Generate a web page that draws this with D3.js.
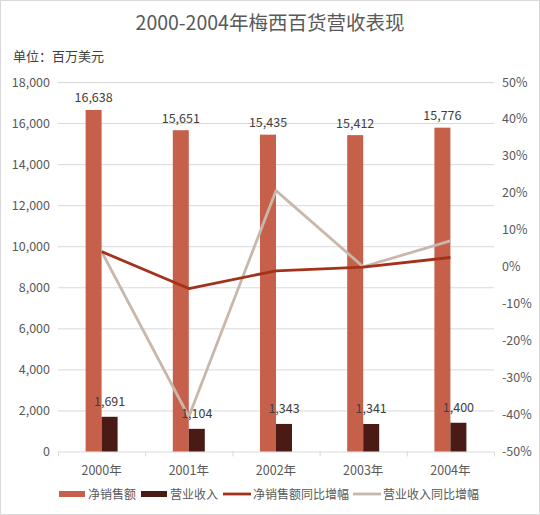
<!DOCTYPE html>
<html>
<head>
<meta charset="utf-8">
<script src="https://cdn.jsdelivr.net/npm/d3@7"></script>
<style>
  html, body { margin: 0; padding: 0; background: #fff; }
  #chart { width: 540px; height: 515px; }
  text { font-family: "Noto Sans CJK SC", "Noto Sans", sans-serif; }
</style>
</head>
<body>
<div id="chart"></div>
<script>
// data
const years = ["2000年", "2001年", "2002年", "2003年", "2004年"];
const netSales = [16638, 15651, 15435, 15412, 15776];
const opIncome = [1691, 1104, 1343, 1341, 1400];
const netSalesGrowth = [4.1, -5.9, -1.1, -0.1, 2.5];
const opIncomeGrowth = [4.1, -40.6, 20.6, 0, 7.0];
const leftTicks = [0, 2000, 4000, 6000, 8000, 10000, 12000, 14000, 16000, 18000];
const rightTicks = [-50, -40, -30, -20, -10, 0, 10, 20, 30, 40, 50];

const W = 540, H = 515;
const m = { left: 58, right: 494, top: 82, bottom: 451.5 };
const cRed = "#C7604A", cDark = "#4A1B14", cLine = "#A3321B", cGray = "#C8B8AC";
const txt = "#595959";

const svg = d3.select("#chart").append("svg")
  .attr("width", W).attr("height", H);

// chart border
svg.append("rect")
  .attr("x", 0.5).attr("y", 0.5)
  .attr("width", W - 1).attr("height", H - 1)
  .attr("fill", "#fff").attr("stroke", "#d9d9d9");

const x = d3.scaleBand().domain(years).range([m.left, m.right]);
const yL = d3.scaleLinear().domain([0, 18000]).range([m.bottom, m.top]);
const yR = d3.scaleLinear().domain([-50, 50]).range([m.bottom, m.top]);
const barW = 16;
const fmt = d3.format(",");

// title + unit
svg.append("text")
  .attr("x", W / 2).attr("y", 30)
  .attr("text-anchor", "middle")
  .attr("fill", txt).style("font-size", "19.5px")
  .text("2000-2004年梅西百货营收表现");

svg.append("text")
  .attr("x", 13).attr("y", 61)
  .attr("fill", "#404040").style("font-size", "13px")
  .text("单位：百万美元");

// gridlines (left axis)
svg.append("g").selectAll("line")
  .data(leftTicks.slice(1))
  .enter().append("line")
    .attr("x1", m.left).attr("x2", m.right)
    .attr("y1", d => yL(d) + 0.5).attr("y2", d => yL(d) + 0.5)
    .attr("stroke", "#d9d9d9");

// left axis labels
svg.append("g").selectAll("text")
  .data(leftTicks)
  .enter().append("text")
    .attr("x", 50).attr("y", d => yL(d) + 4.5)
    .attr("text-anchor", "end")
    .attr("fill", txt).style("font-size", "12.5px")
    .text(d => fmt(d));

// right axis labels
svg.append("g").selectAll("text")
  .data(rightTicks)
  .enter().append("text")
    .attr("x", 502).attr("y", d => yR(d) + 4.5)
    .attr("fill", txt).style("font-size", "12.5px")
    .text(d => d + "%");

// category axis
svg.append("line")
  .attr("x1", m.left).attr("x2", m.right)
  .attr("y1", m.bottom + 0.5).attr("y2", m.bottom + 0.5)
  .attr("stroke", "#d9d9d9");

const edges = years.map(d => x(d)).concat([m.right]);
svg.append("g").selectAll("line")
  .data(edges)
  .enter().append("line")
    .attr("x1", d => d + 0.5).attr("x2", d => d + 0.5)
    .attr("y1", m.bottom).attr("y2", m.bottom + 5)
    .attr("stroke", "#d9d9d9");

svg.append("g").selectAll("text")
  .data(years)
  .enter().append("text")
    .attr("x", d => x(d) + x.bandwidth() / 2)
    .attr("y", 474.5)
    .attr("text-anchor", "middle")
    .attr("fill", txt).style("font-size", "12.5px")
    .text(d => d);

// bars
const cx = i => x(years[i]) + x.bandwidth() / 2;

svg.append("g").selectAll("rect")
  .data(netSales)
  .enter().append("rect")
    .attr("x", (d, i) => cx(i) - barW)
    .attr("y", d => yL(d))
    .attr("width", barW)
    .attr("height", d => m.bottom - yL(d))
    .attr("fill", cRed);

svg.append("g").selectAll("rect")
  .data(opIncome)
  .enter().append("rect")
    .attr("x", (d, i) => cx(i))
    .attr("y", d => yL(d))
    .attr("width", barW)
    .attr("height", d => m.bottom - yL(d))
    .attr("fill", cDark);

// lines
const line = d3.line()
  .x((d, i) => cx(i))
  .y(d => yR(d));

svg.append("path")
  .datum(opIncomeGrowth)
  .attr("d", line)
  .attr("fill", "none")
  .attr("stroke", cGray)
  .attr("stroke-width", 2.8)
  .attr("stroke-linejoin", "round");

svg.append("path")
  .datum(netSalesGrowth)
  .attr("d", line)
  .attr("fill", "none")
  .attr("stroke", cLine)
  .attr("stroke-width", 2.8)
  .attr("stroke-linejoin", "round");

// data labels
svg.append("g").selectAll("text")
  .data(netSales)
  .enter().append("text")
    .attr("x", (d, i) => cx(i) - barW / 2)
    .attr("y", d => yL(d) - 7.5)
    .attr("text-anchor", "middle")
    .attr("fill", "#404040").style("font-size", "12.5px")
    .text(d => fmt(d));

svg.append("g").selectAll("text")
  .data(opIncome)
  .enter().append("text")
    .attr("x", (d, i) => cx(i) + barW / 2)
    .attr("y", d => yL(d) - 10.5)
    .attr("text-anchor", "middle")
    .attr("fill", "#404040").style("font-size", "12.5px")
    .text(d => fmt(d));

// legend
const legend = [
  { name: "净销售额", type: "rect", color: cRed, x: 59 },
  { name: "营业收入", type: "rect", color: cDark, x: 141 },
  { name: "净销售额同比增幅", type: "line", color: cLine, x: 223 },
  { name: "营业收入同比增幅", type: "line", color: cGray, x: 353 }
];
const lg = svg.append("g").selectAll("g")
  .data(legend)
  .enter().append("g")
    .attr("transform", d => `translate(${d.x},494)`);

lg.filter(d => d.type === "rect").append("rect")
  .attr("x", 0).attr("y", -3)
  .attr("width", 26).attr("height", 6)
  .attr("fill", d => d.color);

lg.filter(d => d.type === "line").append("line")
  .attr("x1", 0).attr("x2", 28)
  .attr("y1", 0).attr("y2", 0)
  .attr("stroke", d => d.color)
  .attr("stroke-width", 2.8);

lg.append("text")
  .attr("x", d => d.type === "rect" ? 29 : 30)
  .attr("y", 4.5)
  .attr("fill", txt).style("font-size", "12px")
  .text(d => d.name);
</script>
</body>
</html>
